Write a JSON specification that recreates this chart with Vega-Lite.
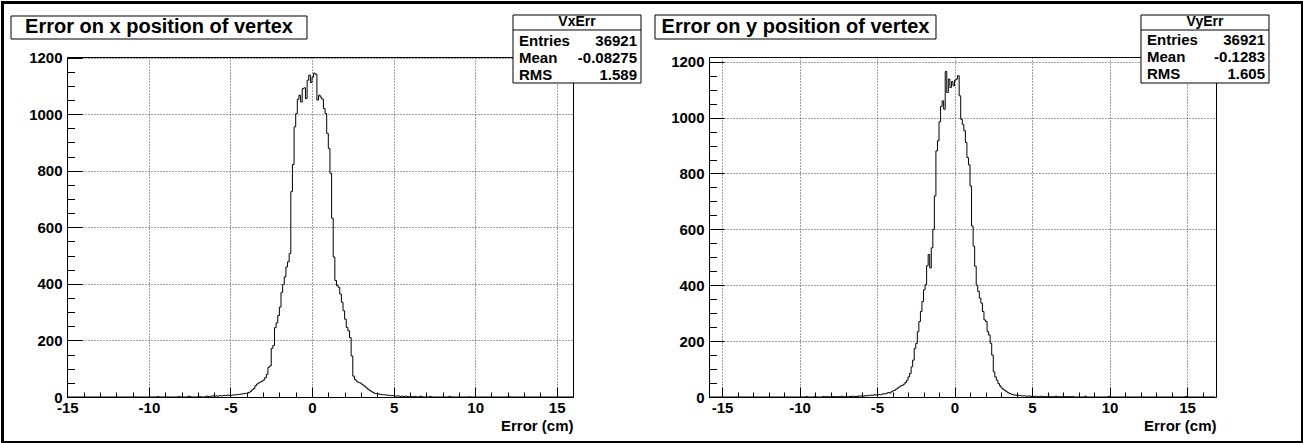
{
  "$schema": "https://vega.github.io/schema/vega-lite/v6.json",
  "padding": 0,
  "background": "white",
  "bounds": "flush",
  "spacing": 136,
  "config": {
    "view": {"stroke": "#000", "strokeWidth": 1},
    "axis": {
      "labelFont": "Liberation Sans", "labelFontWeight": "bold", "labelFontSize": 15, "labelColor": "#000",
      "titleFont": "Liberation Sans", "titleFontWeight": "bold", "titleFontSize": 15, "titleColor": "#000",
      "tickColor": "#000", "tickWidth": 1, "domain": false,
      "gridColor": "#000", "gridDash": [1, 2], "gridWidth": 1, "gridOpacity": 0.75,
      "labelOverlap": false, "labelFlush": false
    },
    "text": {"font": "Liberation Sans", "fontWeight": "bold", "color": "#000"}
  },
  "datasets": {
    "vx": [
      {"x": -15, "n": 0}, {"x": -9.5, "n": 2}, {"x": -9.4, "n": 0}, {"x": -8.2, "n": 2}, {"x": -8.1, "n": 0},
      {"x": -7.6, "n": 3}, {"x": -7.5, "n": 1}, {"x": -7.4, "n": 0}, {"x": -7.0, "n": 2}, {"x": -6.9, "n": 1}, {"x": -6.8, "n": 0},
      {"x": -6.5, "n": 3}, {"x": -6.4, "n": 2}, {"x": -6.3, "n": 1}, {"x": -6.2, "n": 3}, {"x": -6.1, "n": 4},
      {"x": -6.0, "n": 3}, {"x": -5.9, "n": 4}, {"x": -5.8, "n": 3}, {"x": -5.7, "n": 5}, {"x": -5.6, "n": 4},
      {"x": -5.5, "n": 5}, {"x": -5.4, "n": 6}, {"x": -5.3, "n": 5}, {"x": -5.2, "n": 7}, {"x": -5.1, "n": 6},
      {"x": -5.0, "n": 6}, {"x": -4.9, "n": 7}, {"x": -4.8, "n": 7}, {"x": -4.7, "n": 8}, {"x": -4.6, "n": 9},
      {"x": -4.5, "n": 9}, {"x": -4.4, "n": 10}, {"x": -4.3, "n": 11}, {"x": -4.2, "n": 12}, {"x": -4.1, "n": 13},
      {"x": -4.0, "n": 13}, {"x": -3.9, "n": 16}, {"x": -3.8, "n": 20}, {"x": -3.7, "n": 25}, {"x": -3.6, "n": 30},
      {"x": -3.5, "n": 40}, {"x": -3.4, "n": 46}, {"x": -3.3, "n": 50}, {"x": -3.2, "n": 53}, {"x": -3.1, "n": 56},
      {"x": -3.0, "n": 60}, {"x": -2.9, "n": 68}, {"x": -2.8, "n": 80}, {"x": -2.7, "n": 105}, {"x": -2.6, "n": 110},
      {"x": -2.5, "n": 172}, {"x": -2.4, "n": 182}, {"x": -2.3, "n": 245}, {"x": -2.2, "n": 262}, {"x": -2.1, "n": 288},
      {"x": -2.0, "n": 318}, {"x": -1.9, "n": 370}, {"x": -1.8, "n": 398}, {"x": -1.7, "n": 425}, {"x": -1.6, "n": 460},
      {"x": -1.5, "n": 478}, {"x": -1.4, "n": 507}, {"x": -1.3, "n": 726}, {"x": -1.2, "n": 822}, {"x": -1.1, "n": 955},
      {"x": -1.0, "n": 1002}, {"x": -0.9, "n": 1053}, {"x": -0.8, "n": 1067}, {"x": -0.7, "n": 1043}, {"x": -0.6, "n": 1090},
      {"x": -0.5, "n": 1093}, {"x": -0.4, "n": 1055}, {"x": -0.3, "n": 1120}, {"x": -0.2, "n": 1138}, {"x": -0.1, "n": 1112},
      {"x": 0.0, "n": 1131}, {"x": 0.1, "n": 1145}, {"x": 0.2, "n": 1141}, {"x": 0.3, "n": 1050}, {"x": 0.4, "n": 1067},
      {"x": 0.5, "n": 1060}, {"x": 0.6, "n": 1053}, {"x": 0.7, "n": 1020}, {"x": 0.8, "n": 1002}, {"x": 0.9, "n": 932},
      {"x": 1.0, "n": 879}, {"x": 1.1, "n": 791}, {"x": 1.2, "n": 632}, {"x": 1.3, "n": 495}, {"x": 1.4, "n": 412},
      {"x": 1.5, "n": 394}, {"x": 1.6, "n": 388}, {"x": 1.7, "n": 364}, {"x": 1.8, "n": 335}, {"x": 1.9, "n": 305},
      {"x": 2.0, "n": 275}, {"x": 2.1, "n": 246}, {"x": 2.2, "n": 234}, {"x": 2.3, "n": 210}, {"x": 2.4, "n": 145},
      {"x": 2.5, "n": 74}, {"x": 2.6, "n": 62}, {"x": 2.7, "n": 56}, {"x": 2.8, "n": 52}, {"x": 2.9, "n": 50},
      {"x": 3.0, "n": 46}, {"x": 3.1, "n": 42}, {"x": 3.2, "n": 38}, {"x": 3.3, "n": 32}, {"x": 3.4, "n": 28},
      {"x": 3.5, "n": 23}, {"x": 3.6, "n": 20}, {"x": 3.7, "n": 16}, {"x": 3.8, "n": 13}, {"x": 3.9, "n": 12},
      {"x": 4.0, "n": 11}, {"x": 4.1, "n": 10}, {"x": 4.2, "n": 9}, {"x": 4.3, "n": 8}, {"x": 4.4, "n": 8},
      {"x": 4.5, "n": 7}, {"x": 4.6, "n": 6}, {"x": 4.7, "n": 6}, {"x": 4.8, "n": 5}, {"x": 4.9, "n": 5},
      {"x": 5.0, "n": 4}, {"x": 5.1, "n": 3}, {"x": 5.2, "n": 4}, {"x": 5.3, "n": 3}, {"x": 5.4, "n": 2},
      {"x": 5.5, "n": 3}, {"x": 5.6, "n": 2}, {"x": 5.7, "n": 3}, {"x": 5.8, "n": 2}, {"x": 5.9, "n": 1},
      {"x": 6.0, "n": 2}, {"x": 6.1, "n": 1}, {"x": 6.3, "n": 2}, {"x": 6.4, "n": 0}, {"x": 6.6, "n": 3},
      {"x": 6.7, "n": 1}, {"x": 6.8, "n": 0}, {"x": 7.2, "n": 2}, {"x": 7.3, "n": 0}, {"x": 8.4, "n": 2},
      {"x": 8.5, "n": 0}, {"x": 9.6, "n": 1}, {"x": 9.7, "n": 0}, {"x": 12.0, "n": 2}, {"x": 12.1, "n": 0},
      {"x": 16.0, "n": 0}
    ],
    "vy": [
      {"x": -15.8, "n": 0}, {"x": -9.6, "n": 2}, {"x": -9.5, "n": 0}, {"x": -9.1, "n": 1}, {"x": -8.9, "n": 0},
      {"x": -8.5, "n": 2}, {"x": -8.4, "n": 1}, {"x": -7.9, "n": 2}, {"x": -7.8, "n": 1}, {"x": -7.3, "n": 3},
      {"x": -7.2, "n": 1}, {"x": -6.8, "n": 2}, {"x": -6.6, "n": 3}, {"x": -6.5, "n": 2}, {"x": -6.2, "n": 4},
      {"x": -6.1, "n": 3}, {"x": -6.0, "n": 4}, {"x": -5.9, "n": 3}, {"x": -5.8, "n": 5}, {"x": -5.7, "n": 4},
      {"x": -5.6, "n": 6}, {"x": -5.5, "n": 5}, {"x": -5.4, "n": 7}, {"x": -5.3, "n": 6}, {"x": -5.2, "n": 8},
      {"x": -5.1, "n": 7}, {"x": -5.0, "n": 8}, {"x": -4.9, "n": 9}, {"x": -4.8, "n": 8}, {"x": -4.7, "n": 10},
      {"x": -4.6, "n": 12}, {"x": -4.5, "n": 11}, {"x": -4.4, "n": 14}, {"x": -4.3, "n": 16}, {"x": -4.2, "n": 14},
      {"x": -4.1, "n": 19}, {"x": -4.0, "n": 22}, {"x": -3.9, "n": 24}, {"x": -3.8, "n": 28}, {"x": -3.7, "n": 32},
      {"x": -3.6, "n": 36}, {"x": -3.5, "n": 40}, {"x": -3.4, "n": 42}, {"x": -3.3, "n": 46}, {"x": -3.2, "n": 52},
      {"x": -3.1, "n": 60}, {"x": -3.0, "n": 72}, {"x": -2.9, "n": 84}, {"x": -2.8, "n": 108}, {"x": -2.7, "n": 132},
      {"x": -2.6, "n": 174}, {"x": -2.5, "n": 192}, {"x": -2.4, "n": 234}, {"x": -2.3, "n": 270}, {"x": -2.2, "n": 306},
      {"x": -2.1, "n": 342}, {"x": -2.0, "n": 384}, {"x": -1.9, "n": 402}, {"x": -1.8, "n": 470}, {"x": -1.7, "n": 510},
      {"x": -1.6, "n": 462}, {"x": -1.5, "n": 534}, {"x": -1.4, "n": 600}, {"x": -1.3, "n": 720}, {"x": -1.2, "n": 881},
      {"x": -1.1, "n": 917}, {"x": -1.0, "n": 985}, {"x": -0.9, "n": 1040}, {"x": -0.8, "n": 1060}, {"x": -0.7, "n": 1030},
      {"x": -0.6, "n": 1165}, {"x": -0.5, "n": 1090}, {"x": -0.4, "n": 1138}, {"x": -0.3, "n": 1108}, {"x": -0.2, "n": 1129},
      {"x": -0.1, "n": 1114}, {"x": 0.0, "n": 1134}, {"x": 0.1, "n": 1138}, {"x": 0.2, "n": 1150}, {"x": 0.3, "n": 1078},
      {"x": 0.4, "n": 994}, {"x": 0.5, "n": 976}, {"x": 0.6, "n": 953}, {"x": 0.7, "n": 911}, {"x": 0.8, "n": 857},
      {"x": 0.9, "n": 831}, {"x": 1.0, "n": 755}, {"x": 1.1, "n": 612}, {"x": 1.2, "n": 540}, {"x": 1.3, "n": 468},
      {"x": 1.4, "n": 400}, {"x": 1.5, "n": 378}, {"x": 1.6, "n": 354}, {"x": 1.7, "n": 336}, {"x": 1.8, "n": 306},
      {"x": 1.9, "n": 276}, {"x": 2.0, "n": 270}, {"x": 2.1, "n": 234}, {"x": 2.2, "n": 222}, {"x": 2.3, "n": 192},
      {"x": 2.4, "n": 150}, {"x": 2.5, "n": 90}, {"x": 2.6, "n": 72}, {"x": 2.7, "n": 60}, {"x": 2.8, "n": 48},
      {"x": 2.9, "n": 40}, {"x": 3.0, "n": 32}, {"x": 3.1, "n": 28}, {"x": 3.2, "n": 24}, {"x": 3.3, "n": 20},
      {"x": 3.4, "n": 16}, {"x": 3.5, "n": 13}, {"x": 3.6, "n": 11}, {"x": 3.7, "n": 9}, {"x": 3.8, "n": 7},
      {"x": 3.9, "n": 7}, {"x": 4.0, "n": 6}, {"x": 4.1, "n": 6}, {"x": 4.2, "n": 5}, {"x": 4.3, "n": 4},
      {"x": 4.4, "n": 4}, {"x": 4.5, "n": 4}, {"x": 4.6, "n": 3}, {"x": 4.7, "n": 3}, {"x": 4.8, "n": 4},
      {"x": 4.9, "n": 2}, {"x": 5.0, "n": 3}, {"x": 5.1, "n": 2}, {"x": 5.2, "n": 3}, {"x": 5.3, "n": 2},
      {"x": 5.4, "n": 1}, {"x": 5.5, "n": 3}, {"x": 5.6, "n": 2}, {"x": 5.7, "n": 2}, {"x": 5.8, "n": 1},
      {"x": 5.9, "n": 2}, {"x": 6.0, "n": 2}, {"x": 6.2, "n": 1}, {"x": 6.5, "n": 3}, {"x": 6.6, "n": 1},
      {"x": 7.0, "n": 2}, {"x": 7.1, "n": 1}, {"x": 7.6, "n": 2}, {"x": 7.7, "n": 0}, {"x": 8.4, "n": 3},
      {"x": 8.5, "n": 0}, {"x": 9.9, "n": 2}, {"x": 10.0, "n": 0}, {"x": 14.9, "n": 2}, {"x": 15.0, "n": 0},
      {"x": 16.8, "n": 0}
    ]
  },
  "hconcat": [
    {
      "width": 506,
      "height": 340,
      "resolve": {"axis": {"x": "independent", "y": "independent"}},
      "layer": [
        {
          "data": {"values": [{}]},
          "mark": {"type": "rect", "fill": "transparent", "stroke": "#000", "strokeWidth": 3, "clip": false},
          "encoding": {
            "x": {"datum": -18.974, "type": "quantitative", "axis": null},
            "x2": {"datum": 60.721},
            "y": {"datum": 1394.7, "type": "quantitative", "axis": null},
            "y2": {"datum": -160.86}
          }
        },
        {
          "data": {"name": "vx"},
          "mark": {"type": "line", "interpolate": "step-after", "color": "#000", "strokeWidth": 1},
          "encoding": {
            "x": {"field": "x", "type": "quantitative",
              "scale": {"domain": [-15.02, 16.0], "nice": false, "zero": false},
              "axis": {"orient": "bottom", "values": [-15, -10, -5, 0, 5, 10, 15], "grid": true, "tickSize": -10, "labelPadding": 13,
                "labelExpr": "'' + datum.value", "title": "Error (cm)", "titleAnchor": "end", "titleAlign": "right", "titlePadding": 3}},
            "y": {"field": "n", "type": "quantitative",
              "scale": {"domain": [0, 1202], "nice": false, "zero": false},
              "axis": {"orient": "left", "values": [0, 200, 400, 600, 800, 1000, 1200], "grid": true, "tickSize": -15, "labelPadding": 20,
                "labelExpr": "'' + datum.value", "title": null}}
          }
        },
        {
          "data": {"name": "vx"},
          "mark": {"type": "line", "opacity": 0},
          "encoding": {
            "x": {"field": "x", "type": "quantitative",
              "scale": {"domain": [-15.02, 16.0], "nice": false, "zero": false},
              "axis": {"orient": "bottom", "values": [-15, -14, -13, -12, -11, -10, -9, -8, -7, -6, -5, -4, -3, -2, -1, 0, 1, 2, 3, 4, 5, 6, 7, 8, 9, 10, 11, 12, 13, 14, 15, 16],
                "labels": false, "grid": false, "tickSize": -5, "title": null}},
            "y": {"field": "n", "type": "quantitative",
              "scale": {"domain": [0, 1202], "nice": false, "zero": false},
              "axis": {"orient": "left", "values": [0, 50, 100, 150, 200, 250, 300, 350, 400, 450, 500, 550, 600, 650, 700, 750, 800, 850, 900, 950, 1000, 1050, 1100, 1150, 1200],
                "labels": false, "grid": false, "tickSize": -7.5, "title": null}}
          }
        },
        {
          "data": {"values": [{}]},
          "mark": {"type": "rect", "fill": "#fff", "stroke": "#000", "strokeWidth": 1, "clip": false},
          "encoding": {
            "x": {"datum": -18.453, "type": "quantitative", "axis": null},
            "x2": {"datum": -0.307},
            "y": {"datum": 1346.9, "type": "quantitative", "axis": null},
            "y2": {"datum": 1265.6}
          }
        },
        {
          "data": {"values": [{}]},
          "mark": {"type": "text", "fontSize": 20, "align": "center", "baseline": "middle", "clip": false},
          "encoding": {
            "x": {"datum": -9.38, "type": "quantitative", "axis": null},
            "y": {"datum": 1306.3, "type": "quantitative", "axis": null},
            "text": {"value": "Error on x position of vertex"}
          }
        },
        {
          "data": {"values": [{}]},
          "mark": {"type": "rect", "fill": "#fff", "stroke": "#000", "strokeWidth": 1, "clip": false},
          "encoding": {
            "x": {"datum": 12.322, "type": "quantitative", "axis": null},
            "x2": {"datum": 20.169},
            "y": {"datum": 1350.5, "type": "quantitative", "axis": null},
            "y2": {"datum": 1110.1}
          }
        },
        {
          "data": {"values": [{}]},
          "mark": {"type": "rule", "color": "#000", "strokeWidth": 1, "clip": false},
          "encoding": {
            "x": {"datum": 12.322, "type": "quantitative", "axis": null},
            "x2": {"datum": 20.169},
            "y": {"datum": 1297.5, "type": "quantitative", "axis": null}
          }
        },
        {
          "data": {"values": [{}]},
          "mark": {"type": "text", "fontSize": 14, "align": "center", "baseline": "middle", "clip": false},
          "encoding": {
            "x": {"datum": 16.245, "type": "quantitative", "axis": null},
            "y": {"datum": 1324.0, "type": "quantitative", "axis": null},
            "text": {"value": "VxErr"}
          }
        },
        {
          "data": {"values": [{}]},
          "mark": {"type": "text", "fontSize": 15, "align": "left", "baseline": "middle", "lineHeight": 17, "clip": false},
          "encoding": {
            "x": {"datum": 12.69, "type": "quantitative", "axis": null},
            "y": {"datum": 1260.3, "type": "quantitative", "axis": null},
            "text": {"value": ["Entries", "Mean", "RMS"]}
          }
        },
        {
          "data": {"values": [{}]},
          "mark": {"type": "text", "fontSize": 15, "align": "right", "baseline": "middle", "lineHeight": 17, "clip": false},
          "encoding": {
            "x": {"datum": 19.924, "type": "quantitative", "axis": null},
            "y": {"datum": 1260.3, "type": "quantitative", "axis": null},
            "text": {"value": ["36921", "-0.08275", "1.589"]}
          }
        }
      ]
    },
    {
      "width": 507,
      "height": 340,
      "resolve": {"axis": {"x": "independent", "y": "independent"}},
      "layer": [
        {
          "data": {"name": "vy"},
          "mark": {"type": "line", "interpolate": "step-after", "color": "#000", "strokeWidth": 1},
          "encoding": {
            "x": {"field": "x", "type": "quantitative",
              "scale": {"domain": [-15.84, 16.87], "nice": false, "zero": false},
              "axis": {"orient": "bottom", "values": [-15, -10, -5, 0, 5, 10, 15], "grid": true, "tickSize": -10, "labelPadding": 13,
                "labelExpr": "'' + datum.value", "title": "Error (cm)", "titleAnchor": "end", "titleAlign": "right", "titlePadding": 3}},
            "y": {"field": "n", "type": "quantitative",
              "scale": {"domain": [0, 1217], "nice": false, "zero": false},
              "axis": {"orient": "left", "values": [0, 200, 400, 600, 800, 1000, 1200], "grid": true, "tickSize": -15, "labelPadding": 20,
                "labelExpr": "'' + datum.value", "title": null}}
          }
        },
        {
          "data": {"name": "vy"},
          "mark": {"type": "line", "opacity": 0},
          "encoding": {
            "x": {"field": "x", "type": "quantitative",
              "scale": {"domain": [-15.84, 16.87], "nice": false, "zero": false},
              "axis": {"orient": "bottom", "values": [-15, -14, -13, -12, -11, -10, -9, -8, -7, -6, -5, -4, -3, -2, -1, 0, 1, 2, 3, 4, 5, 6, 7, 8, 9, 10, 11, 12, 13, 14, 15, 16],
                "labels": false, "grid": false, "tickSize": -5, "title": null}},
            "y": {"field": "n", "type": "quantitative",
              "scale": {"domain": [0, 1217], "nice": false, "zero": false},
              "axis": {"orient": "left", "values": [0, 50, 100, 150, 200, 250, 300, 350, 400, 450, 500, 550, 600, 650, 700, 750, 800, 850, 900, 950, 1000, 1050, 1100, 1150, 1200],
                "labels": false, "grid": false, "tickSize": -7.5, "title": null}}
          }
        },
        {
          "data": {"values": [{}]},
          "mark": {"type": "rect", "fill": "#fff", "stroke": "#000", "strokeWidth": 1, "clip": false},
          "encoding": {
            "x": {"datum": -19.324, "type": "quantitative", "axis": null},
            "x2": {"datum": -1.195},
            "y": {"datum": 1367.3, "type": "quantitative", "axis": null},
            "y2": {"datum": 1281.4}
          }
        },
        {
          "data": {"values": [{}]},
          "mark": {"type": "text", "fontSize": 20, "align": "center", "baseline": "middle", "clip": false},
          "encoding": {
            "x": {"datum": -10.259, "type": "quantitative", "axis": null},
            "y": {"datum": 1324.4, "type": "quantitative", "axis": null},
            "text": {"value": "Error on y position of vertex"}
          }
        },
        {
          "data": {"values": [{}]},
          "mark": {"type": "rect", "fill": "#fff", "stroke": "#000", "strokeWidth": 1, "clip": false},
          "encoding": {
            "x": {"datum": 12.031, "type": "quantitative", "axis": null},
            "x2": {"datum": 20.289},
            "y": {"datum": 1367.3, "type": "quantitative", "axis": null},
            "y2": {"datum": 1123.9}
          }
        },
        {
          "data": {"values": [{}]},
          "mark": {"type": "rule", "color": "#000", "strokeWidth": 1, "clip": false},
          "encoding": {
            "x": {"datum": 12.031, "type": "quantitative", "axis": null},
            "x2": {"datum": 20.289},
            "y": {"datum": 1313.6, "type": "quantitative", "axis": null}
          }
        },
        {
          "data": {"values": [{}]},
          "mark": {"type": "text", "fontSize": 14, "align": "center", "baseline": "middle", "clip": false},
          "encoding": {
            "x": {"datum": 16.16, "type": "quantitative", "axis": null},
            "y": {"datum": 1340.5, "type": "quantitative", "axis": null},
            "text": {"value": "VyErr"}
          }
        },
        {
          "data": {"values": [{}]},
          "mark": {"type": "text", "fontSize": 15, "align": "left", "baseline": "middle", "lineHeight": 17, "clip": false},
          "encoding": {
            "x": {"datum": 12.418, "type": "quantitative", "axis": null},
            "y": {"datum": 1276.1, "type": "quantitative", "axis": null},
            "text": {"value": ["Entries", "Mean", "RMS"]}
          }
        },
        {
          "data": {"values": [{}]},
          "mark": {"type": "text", "fontSize": 15, "align": "right", "baseline": "middle", "lineHeight": 17, "clip": false},
          "encoding": {
            "x": {"datum": 20.031, "type": "quantitative", "axis": null},
            "y": {"datum": 1276.1, "type": "quantitative", "axis": null},
            "text": {"value": ["36921", "-0.1283", "1.605"]}
          }
        }
      ]
    }
  ]
}
